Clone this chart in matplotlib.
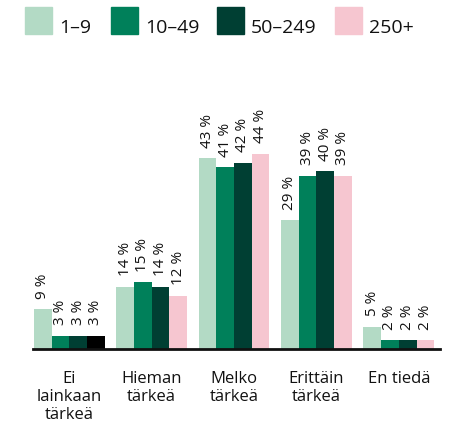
import matplotlib
matplotlib.use("Agg")
import matplotlib.pyplot as plt
from matplotlib.patches import Rectangle
import numpy as np

plt.rcParams['font.family'] = ['Open Sans', 'DejaVu Sans']

categories = ["Ei\nlainkaan\ntärkeä", "Hieman\ntärkeä", "Melko\ntärkeä", "Erittäin\ntärkeä", "En tiedä"]
series_names = ["1–9", "10–49", "50–249", "250+"]
values = {
    "1–9":    [9, 14, 43, 29, 5],
    "10–49":  [3, 15, 41, 39, 2],
    "50–249": [3, 14, 42, 40, 2],
    "250+":   [3, 12, 44, 39, 2],
}
colors = ["#b3dac5", "#00805a", "#003f33", "#f6c6d0"]

W, H = 450, 422
fig = plt.figure(figsize=(W / 100, H / 100), dpi=100)
ax = fig.add_axes([33/W, 73/H, 407/W, 222/H])

x = np.arange(len(categories))
n = len(series_names)
bw = 0.215
for i, name in enumerate(series_names):
    pos = x + (i - (n - 1) / 2) * bw
    bars = ax.bar(pos, values[name], width=bw, color=colors[i], zorder=2)
    if name == "250+":
        bars[0].set_facecolor("#000000")
    for xb, v in zip(pos, values[name]):
        ax.annotate(f"{v} %", (xb, v), xytext=(0, 7.5), textcoords="offset points",
                    rotation=90, ha="center", va="bottom", fontsize=11,
                    color="#111111", annotation_clip=False)

ax.set_xlim(-0.44, 4.50)
ax.set_ylim(0, 50)
for s in ["top", "right", "left"]:
    ax.spines[s].set_visible(False)
ax.spines["bottom"].set_linewidth(2)
ax.spines["bottom"].set_color("#111111")
ax.spines["bottom"].set_zorder(3)
ax.set_yticks([])
ax.set_xticks(x)
ax.set_xticklabels(categories, fontsize=12, color="#111111", linespacing=1.15)
ax.tick_params(axis="x", length=0, pad=16)

# legend drawn manually in figure pixel coordinates
leg_x = [25, 111, 217, 335]
for lx, c, name in zip(leg_x, colors, series_names):
    fig.patches.append(Rectangle((lx / W, 1 - 34 / H), 27 / W, 27 / H,
                                 transform=fig.transFigure, color=c))
    fig.text((lx + 34) / W, 1 - 33 / H, name, fontsize=14, color="#111111",
             ha="left", va="baseline")

fig.savefig("out.png", dpi=100)
